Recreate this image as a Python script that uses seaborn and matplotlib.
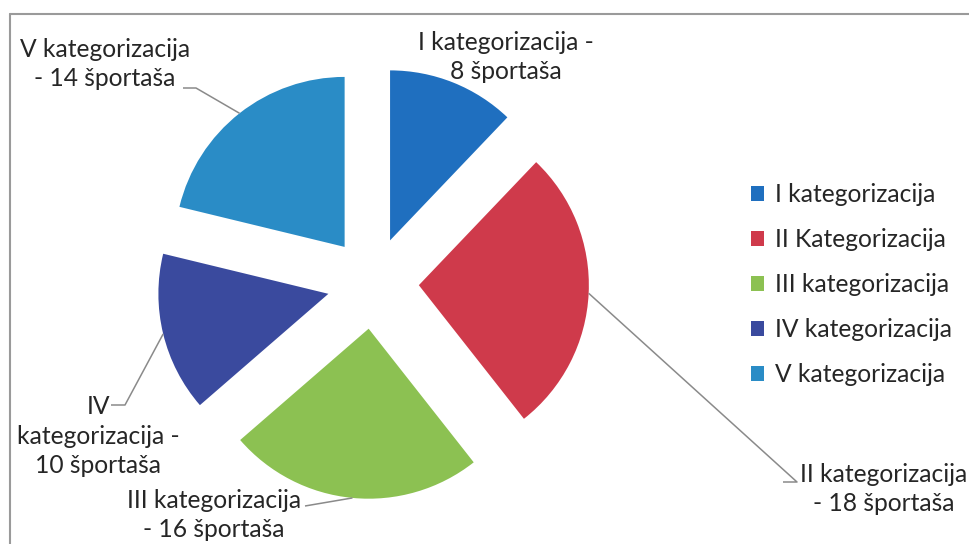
import matplotlib
matplotlib.use("Agg")
import matplotlib.pyplot as plt
import seaborn as sns
import numpy as np
from matplotlib.patches import Patch

# ---- data ----
categories = ["I kategorizacija", "II Kategorizacija", "III kategorizacija",
              "IV kategorizacija", "V kategorizacija"]
values = [8, 18, 16, 10, 14]
data_labels = ["I kategorizacija -\n8 športaša",
               "II kategorizacija\n- 18 športaša",
               "III kategorizacija\n- 16 športaša",
               "IV\nkategorizacija -\n10 športaša",
               "V kategorizacija\n- 14 športaša"]
colors = ["#1F6FBF", "#CF3A4B", "#8CC152", "#3A4A9E", "#2A8CC6"]

sns.set_theme(style="white")
plt.rcParams['font.family'] = ['Lato', 'DejaVu Sans']

W, H = 970, 544
fig = plt.figure(figsize=(W / 100, H / 100), dpi=100)
ax = fig.add_axes([0, 0, 1, 1])

cx, cy, R = 373, 283, 170      # pie centre / radius in pixels
explode_frac = 0.27


def p2d(px, py):
    return ((px - cx) / R, (cy - py) / R)


palette = sns.color_palette(colors)
wedges, _ = ax.pie(values, colors=palette, startangle=90, counterclock=False,
                   explode=[explode_frac] * len(values), radius=1.0,
                   wedgeprops=dict(linewidth=0))

ax.set_xlim(-cx / R, (W - cx) / R)
ax.set_ylim(-(H - cy) / R, cy / R)
ax.set_aspect('auto')
ax.axis('off')

# label text centres (pixels) and leader elbow points
label_pos = [(506, 57), (884, 489), (214, 515), (98, 436), (105, 64)]
elbows = [None,
          [(797, 482), (783, 482)],
          [(305, 506)],
          [(125, 405), (111, 405)],
          [(196, 88), (183, 88)]]

fs = 17.7
for w, lab, pos, elb in zip(wedges, data_labels, label_pos, elbows):
    ax.text(*p2d(*pos), lab, ha='center', va='center', fontsize=fs,
            color='#262626', linespacing=1.32)
    if elb is not None:
        mid = np.deg2rad((w.theta1 + w.theta2) / 2)
        d = 1.0 + explode_frac
        pts = [(d * np.cos(mid), d * np.sin(mid))] + [p2d(*e) for e in elb]
        xs, ys = zip(*pts)
        ax.plot(xs, ys, color='#8a8a8a', lw=1.1, solid_capstyle='butt')

# legend
handles = [Patch(facecolor=c, edgecolor='none') for c in palette]
leg = fig.legend(handles, categories, loc='upper left',
                 bbox_to_anchor=(741 / W, 1 - 173 / H), frameon=False,
                 fontsize=fs, handlelength=0.55, handleheight=0.55,
                 handletextpad=0.45, labelspacing=0.9, borderaxespad=0)
for t in leg.get_texts():
    t.set_color('#262626')

# chart area border
fig.add_artist(plt.Line2D([10 / W, 10 / W], [0, 1 - 14 / H],
                          transform=fig.transFigure, color='#9a9a9a', lw=1.5))
fig.add_artist(plt.Line2D([10 / W, 1], [1 - 14 / H, 1 - 14 / H],
                          transform=fig.transFigure, color='#9a9a9a', lw=1.5))

fig.savefig("out.png", dpi=100, facecolor='white')
